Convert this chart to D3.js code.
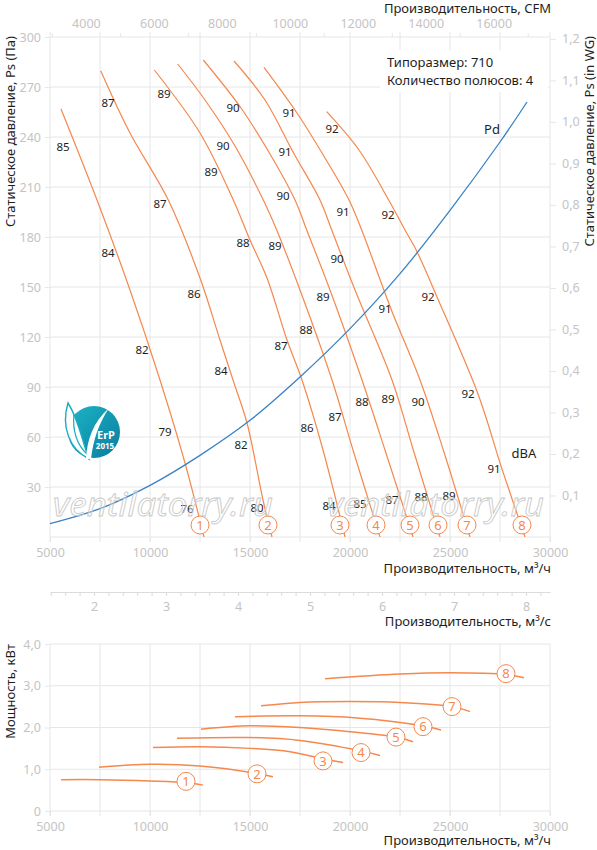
<!DOCTYPE html>
<html>
<head>
<meta charset="utf-8">
<script src="https://cdn.jsdelivr.net/npm/d3@7"></script>
<style>
  body { margin: 0; background: #fff; }
  svg { display: block; font-family: "Noto Sans", sans-serif; }
</style>
</head>
<body>
<div id="chart"></div>
<script>
// axis ticks
const flowTicks = [5000, 10000, 15000, 20000, 25000, 30000];
const flowGrid = [5000, 7500, 10000, 12500, 15000, 17500, 20000, 22500, 25000, 27500, 30000];
const pressureTicks = [30, 60, 90, 120, 150, 180, 210, 240, 270, 300];
const pressureGrid = [0, 30, 60, 90, 120, 150, 180, 210, 240, 270, 300];
const wgTicks = [0.1, 0.2, 0.3, 0.4, 0.5, 0.6, 0.7, 0.8, 0.9, 1.0, 1.1, 1.2];
const cfmTicks = [4000, 6000, 8000, 10000, 12000, 14000, 16000];
const cfmMinor = [3000, 5000, 7000, 9000, 11000, 13000, 15000, 17000];
const m3sTicks = [2, 3, 4, 5, 6, 7, 8];
const m3sMinor = [1.4, 1.6, 1.8, 2, 2.2, 2.4, 2.6, 2.8, 3, 3.2, 3.4, 3.6, 3.8, 4, 4.2, 4.4, 4.6, 4.8,
  5, 5.2, 5.4, 5.6, 5.8, 6, 6.2, 6.4, 6.6, 6.8, 7, 7.2, 7.4, 7.6, 7.8, 8, 8.2];
const powerTicks = [0, 1, 2, 3, 4];

// static pressure curves, [m3/h, Pa]
const curve1 = [[5550, 256.8], [7350, 202.2], [9000, 148.2], [10500, 94.2], [11750, 44.4], [12700, 0]];
const curve2 = [[7535, 279.8], [9000, 242.4], [10915, 202.2], [12500, 155.4], [13500, 118.2], [14150, 94.2], [14850, 68.4], [15650, 22.2], [16100, 0]];
const curve3 = [[10215, 280.2], [12500, 242.4], [14165, 202.2], [15000, 178.2], [15850, 155.4], [16850, 118.2], [17600, 94.2], [18650, 52.2], [19750, 0]];
const curve4 = [[11385, 283.8], [12750, 262.2], [14250, 234.6], [15665, 202.2], [16335, 184.2], [17500, 148.2], [19100, 94.2], [20150, 52.2], [21500, 0]];
const curve5 = [[12665, 286.2], [14550, 257.4], [16000, 229.8], [17250, 202.2], [17835, 184.2], [19000, 148.2], [20600, 94.2], [21750, 52.2], [23150, 0]];
const curve6 = [[14200, 285.6], [15750, 262.2], [17150, 231], [18500, 202.2], [19085, 184.2], [20250, 148.2], [22100, 94.2], [23165, 52.2], [24500, 0]];
const curve7 = [[15700, 281.8], [17350, 254.4], [18750, 227.4], [19950, 202.2], [20585, 184.2], [22050, 136.8], [23500, 94.2], [24665, 52.2], [26000, 0]];
const curve8 = [[18835, 255.2], [20450, 232.2], [21935, 202.2], [22750, 184.2], [23350, 171.2], [24350, 144], [26400, 85.8], [27600, 40.8], [28750, 0]];
const pressureCurves = [curve1, curve2, curve3, curve4, curve5, curve6, curve7, curve8];

// dynamic pressure Pd, [m3/h, Pa]
const pdCurve = [[5000, 8], [7500, 17], [10000, 31], [12500, 49], [15000, 70], [17500, 96], [20000, 125],
  [22500, 158], [25000, 196], [27500, 237], [28850, 261]];

// noise levels along the curves, [m3/h, Pa, dBA]
const dbaLabels = [
  [5650, 234, 85], [7900, 170.4, 84], [9600, 112.2, 82], [10750, 63, 79], [11850, 16.8, 76],
  [7900, 260.4, 87], [10500, 199.8, 87], [12200, 145.8, 86], [13550, 99.6, 84], [14550, 55.2, 82], [15350, 17.4, 80],
  [10700, 265.8, 89], [13050, 219, 89], [14650, 176.4, 88], [16550, 114.6, 87], [17850, 65.4, 86], [18950, 18.6, 84],
  [13650, 234.6, 90], [16250, 174.6, 89], [17800, 124.2, 88], [19250, 72, 87], [20500, 19.8, 85],
  [14150, 257.4, 90], [16650, 204.6, 90], [18650, 144, 89], [20600, 81, 88], [22100, 22.2, 87],
  [16750, 231, 91], [19350, 166.8, 90], [21900, 82.8, 89], [23550, 24, 88],
  [16950, 254.4, 91], [19650, 195, 91], [21750, 136.8, 91], [23400, 81, 90], [24950, 24.6, 89],
  [19100, 244.8, 92], [21900, 193.2, 92], [23900, 144, 92], [25900, 85.8, 92], [27200, 40.8, 91]
];

// numbered markers on the pressure curves, [m3/h, Pa]
const curveMarks = [[12500, 7.2], [15900, 7.2], [19500, 7.2], [21300, 7.2], [23000, 7.2], [24400, 7.2], [25850, 7.2], [28600, 7.2]];

// power curves, [m3/h, kW]
const power1 = [[5550, 0.75], [7500, 0.75], [10000, 0.72], [11800, 0.68], [12650, 0.62]];
const power2 = [[7450, 1.05], [10000, 1.12], [12500, 1.08], [15350, 0.90], [16150, 0.82]];
const power3 = [[10150, 1.52], [12500, 1.54], [15000, 1.50], [17000, 1.42], [18650, 1.25], [19650, 1.16]];
const power4 = [[11350, 1.74], [15000, 1.76], [17500, 1.69], [20550, 1.44], [21500, 1.33]];
const power5 = [[12550, 1.96], [15000, 2.04], [17500, 2.00], [20000, 1.90], [22300, 1.77], [23150, 1.66]];
const power6 = [[14250, 2.26], [17500, 2.28], [20350, 2.23], [23650, 2.04], [24550, 1.94]];
const power7 = [[15550, 2.52], [17500, 2.60], [20000, 2.62], [22500, 2.60], [25100, 2.50], [26000, 2.38]];
const power8 = [[18750, 3.17], [22500, 3.28], [25000, 3.31], [27800, 3.27], [28700, 3.19]];
const powerCurves = [power1, power2, power3, power4, power5, power6, power7, power8];
const powerMarks = [[11800, 0.71], [15350, 0.89], [18650, 1.20], [20550, 1.40], [22300, 1.77], [23650, 2.02], [25100, 2.50], [27800, 3.29]];

const width = 597;
const height = 850;
const orange = '#f5884c';
const blue = '#3a82c4';
const gridColor = '#e6e6e6';
const tickColor = '#c4c4c4';
const textColor = '#1e1e1e';
const FONT = '"Noto Sans", sans-serif';
const comma = d => d.toFixed(1).replace('.', ',');
const plain = d3.format('d');

const x = d3.scaleLinear().domain([5000, 30000]).range([50, 550]);
const y = d3.scaleLinear().domain([0, 300]).range([537, 37]);
const yWg = d3.scaleLinear().domain([0, 300 / 249.089]).range([537, 37]);
const xCfm = d3.scaleLinear().domain([5000 / 1.699, 30000 / 1.699]).range([50, 550]);
const xM3s = d3.scaleLinear().domain([5000 / 3600, 30000 / 3600]).range([50, 550]);
const yPow = d3.scaleLinear().domain([0, 4]).range([811, 644]);

const svg = d3.select('#chart').append('svg')
  .attr('width', width)
  .attr('height', height);

svg.append('rect').attr('width', width).attr('height', height).attr('fill', '#fff');

function styleAxis(g) {
  g.attr('font-family', FONT).attr('font-size', 12.5);
  g.select('.domain').remove();
  g.selectAll('.tick line').attr('stroke', gridColor);
  g.selectAll('.tick text').attr('fill', tickColor);
}

// ---- main chart grid
svg.append('g').selectAll('line').data(flowGrid).join('line')
  .attr('x1', d => x(d)).attr('x2', d => x(d))
  .attr('y1', 32).attr('y2', 542)
  .attr('stroke', gridColor);
svg.append('g').selectAll('line').data(pressureGrid).join('line')
  .attr('x1', 50).attr('x2', 550)
  .attr('y1', d => y(d)).attr('y2', d => y(d))
  .attr('stroke', gridColor);

svg.append('g').attr('transform', 'translate(50,0)')
  .call(d3.axisLeft(y).tickValues(pressureTicks).tickSize(5).tickPadding(4))
  .call(styleAxis);
svg.append('g').attr('transform', 'translate(550,0)')
  .call(d3.axisRight(yWg).tickValues(wgTicks).tickSize(6).tickPadding(6).tickFormat(comma))
  .call(styleAxis);
svg.append('g').attr('transform', 'translate(0,537)')
  .call(d3.axisBottom(x).tickValues(flowTicks).tickSize(5).tickPadding(6).tickFormat(plain))
  .call(styleAxis);
svg.append('g').attr('transform', 'translate(0,37)')
  .call(d3.axisTop(xCfm).tickValues(cfmTicks).tickSize(0).tickPadding(9).tickFormat(plain))
  .call(styleAxis);
svg.append('g').attr('transform', 'translate(0,37)')
  .call(d3.axisTop(xCfm).tickValues(cfmMinor).tickSize(4).tickFormat(''))
  .call(styleAxis);

// ---- m3/s axis
svg.append('g').attr('transform', 'translate(0,592)')
  .call(d3.axisBottom(xM3s).tickValues(m3sMinor).tickSize(4).tickSizeOuter(0).tickFormat(''))
  .call(g => g.select('.domain').attr('stroke', '#dcdcdc'))
  .call(g => g.selectAll('.tick line').attr('stroke', '#dcdcdc'));
svg.append('g').attr('transform', 'translate(0,592)')
  .call(d3.axisBottom(xM3s).tickValues(m3sTicks).tickSize(0).tickPadding(10).tickFormat(plain))
  .call(styleAxis);

// ---- titles
function title(txt, xPos, yPos, rotate, anchor) {
  const t = svg.append('text')
    .attr('font-family', FONT).attr('font-size', 13).attr('fill', textColor)
    .attr('text-anchor', anchor || 'end')
    .text(txt);
  if (rotate) t.attr('transform', `translate(${xPos},${yPos}) rotate(${rotate})`);
  else t.attr('x', xPos).attr('y', yPos);
  return t;
}
title('Производительность, CFM', 551, 13);
title('Статическое давление, Ps (Па)', 15, 36, -90);
title('Статическое давление, Ps (in WG)', 594, 36, -90);
title('Производительность, м³/ч', 551, 573);
title('Производительность, м³/с', 551, 626);
title('Мощность, кВт', 15, 644, -90);
title('Производительность, м³/ч', 551, 845);

// info box
svg.append('rect').attr('x', 380).attr('y', 50).attr('width', 168).attr('height', 42).attr('fill', '#fff');
title('Типоразмер: 710', 387, 67, 0, 'start');
title('Количество полюсов: 4', 387, 85, 0, 'start');

// ---- curves
const line = d3.line()
  .x(d => x(d[0]))
  .y(d => y(d[1]))
  .curve(d3.curveCatmullRom.alpha(0.5));

svg.append('g').selectAll('path').data(pressureCurves).join('path')
  .attr('d', line)
  .attr('fill', 'none')
  .attr('stroke', orange)
  .attr('stroke-width', 1.2);

svg.append('path')
  .attr('d', line(pdCurve))
  .attr('fill', 'none')
  .attr('stroke', blue)
  .attr('stroke-width', 1.3);

svg.append('g').selectAll('text').data(dbaLabels).join('text')
  .attr('x', d => x(d[0])).attr('y', d => y(d[1]))
  .attr('dy', '0.36em')
  .attr('text-anchor', 'middle')
  .attr('font-family', FONT).attr('font-size', 11.5).attr('fill', textColor)
  .text(d => d[2]);

title('Pd', x(27100), y(244.8) + 5, 0, 'middle');
title('dBA', x(28700), y(50.6) + 5, 0, 'middle');

function marks(data, yScale) {
  const g = svg.append('g').selectAll('g').data(data).join('g')
    .attr('transform', d => `translate(${x(d[0])},${yScale(d[1])})`);
  g.append('circle').attr('r', 9).attr('fill', '#fff').attr('stroke', orange).attr('stroke-width', 1);
  g.append('text')
    .attr('text-anchor', 'middle').attr('dy', '0.36em')
    .attr('font-family', FONT).attr('font-size', 13).attr('fill', orange)
    .text((d, i) => i + 1);
}
marks(curveMarks, y);

// watermark
svg.append('g').selectAll('text').data([[53, 220], [327, 217]]).join('text')
  .attr('x', d => d[0]).attr('y', 516)
  .attr('textLength', d => d[1]).attr('lengthAdjust', 'spacingAndGlyphs')
  .attr('font-family', FONT).attr('font-style', 'italic').attr('font-size', 32)
  .attr('fill', 'rgba(255,255,255,0.3)').attr('stroke', '#c8c8c8').attr('stroke-width', 0.8)
  .text('ventilatorry.ru');

// ErP logo
const defs = svg.append('defs');
const grad = defs.append('linearGradient').attr('id', 'erpGrad')
  .attr('x1', '0%').attr('y1', '0%').attr('x2', '100%').attr('y2', '100%');
grad.append('stop').attr('offset', '0%').attr('stop-color', '#1cb5c6');
grad.append('stop').attr('offset', '100%').attr('stop-color', '#0a7c9e');
const logo = svg.append('g').attr('transform', 'translate(94,432)');
logo.append('circle').attr('r', 26).attr('fill', 'url(#erpGrad)');
logo.append('path')
  .attr('d', 'M-26,-29 C-33,-6 -25,17 -5,27 C-12,9 -15,-12 -26,-29Z')
  .attr('fill', '#fff').attr('stroke', '#19abc0').attr('stroke-width', 1.4);
logo.append('path')
  .attr('d', 'M-20,-18 C-22,0 -16,14 -7,22')
  .attr('fill', 'none').attr('stroke', '#19abc0').attr('stroke-width', 1.2);
logo.append('path')
  .attr('d', 'M-8,27 C-7,8 -1,-10 15,-24 C5,-9 -1,8 -3,27Z')
  .attr('fill', '#fff');
logo.append('text').attr('x', 12).attr('y', 7).attr('text-anchor', 'middle')
  .attr('font-family', FONT).attr('font-weight', 'bold').attr('font-size', 11).attr('fill', '#fff').text('ErP');
logo.append('text').attr('x', 11).attr('y', 17).attr('text-anchor', 'middle')
  .attr('font-family', FONT).attr('font-weight', 'bold').attr('font-size', 8).attr('fill', '#fff').text('2015');

// ---- power chart
svg.append('g').selectAll('line').data(flowGrid).join('line')
  .attr('x1', d => x(d)).attr('x2', d => x(d))
  .attr('y1', 644).attr('y2', 816)
  .attr('stroke', gridColor);
svg.append('g').selectAll('line').data(powerTicks).join('line')
  .attr('x1', 50).attr('x2', 550)
  .attr('y1', d => yPow(d)).attr('y2', d => yPow(d))
  .attr('stroke', gridColor);
svg.append('g').attr('transform', 'translate(50,0)')
  .call(d3.axisLeft(yPow).tickValues(powerTicks).tickSize(5).tickPadding(4).tickFormat(d => d ? comma(d) : '0'))
  .call(styleAxis);
svg.append('g').attr('transform', 'translate(0,811)')
  .call(d3.axisBottom(x).tickValues(flowTicks).tickSize(5).tickPadding(6).tickFormat(plain))
  .call(styleAxis);

const powerLine = d3.line()
  .x(d => x(d[0]))
  .y(d => yPow(d[1]))
  .curve(d3.curveCatmullRom.alpha(0.5));

svg.append('g').selectAll('path').data(powerCurves).join('path')
  .attr('d', powerLine)
  .attr('fill', 'none')
  .attr('stroke', orange)
  .attr('stroke-width', 1.5);
marks(powerMarks, yPow);
</script>
</body>
</html>
